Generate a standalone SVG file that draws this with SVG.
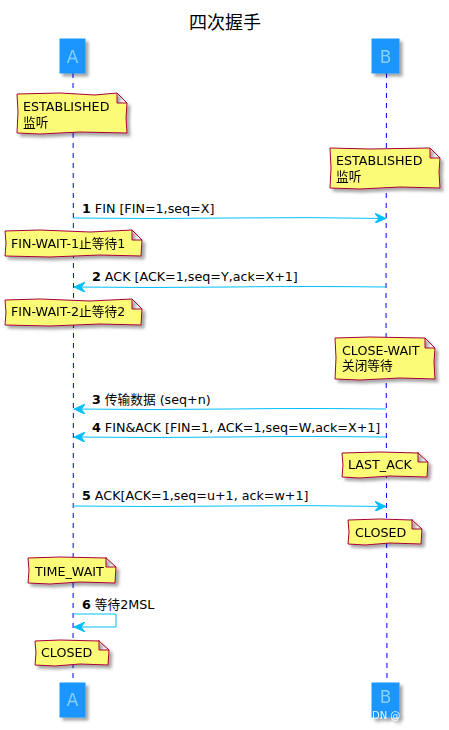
<svg xmlns="http://www.w3.org/2000/svg" width="449" height="730" viewBox="0 0 449 730">
<defs>
<filter id="sh" x="-20%" y="-20%" width="150%" height="160%">
<feGaussianBlur in="SourceAlpha" stdDeviation="1.6"/>
<feOffset dx="3" dy="3" result="b"/>
<feFlood flood-color="#000" flood-opacity="0.35"/>
<feComposite in2="b" operator="in"/>
<feMerge><feMergeNode/><feMergeNode in="SourceGraphic"/></feMerge>
</filter>
<marker id="ah" viewBox="0 0 12 10" refX="11" refY="5" markerWidth="12" markerHeight="10" markerUnits="userSpaceOnUse" orient="auto">
<path d="M0,0 L11,5 L0,10 L4,5 Z" fill="#00BFFF" stroke="#00BFFF" stroke-width="1"/>
</marker>
</defs>
<style>
text{font-family:"DejaVu Sans","Noto Sans CJK SC",sans-serif;}
.t{font-size:12.7px;fill:#000;}
.b{font-weight:bold;}
.title{font-size:18px;fill:#000;}
.part rect{fill:#1A96FF;stroke:#1A96FF;stroke-width:1;}
.part text{font-size:17px;fill:#87CEFA;}
.note path{fill:#FBFB77;stroke:#A80036;stroke-width:1;}
.life{stroke:#0000FF;stroke-width:1;stroke-dasharray:5,5;fill:none;}
.msg{stroke:#00BFFF;stroke-width:1;fill:none;marker-end:url(#ah);}
</style>
<rect width="449" height="730" fill="#fff"/>
<text class="title" x="225" y="29" text-anchor="middle">四次握手</text>

<g id="lifelines">
<path class="life" d="M73,73 L73.5,300 L73,683"/>
<path class="life" d="M386.5,73 L386,300 L387,683"/>
</g>

<g id="participant-A-top" class="part" filter="url(#sh)">
<rect x="60" y="39" width="25" height="34"/>
<text x="72.5" y="63" text-anchor="middle">A</text>
</g>
<g id="participant-B-top" class="part" filter="url(#sh)">
<rect x="372" y="39" width="27" height="34"/>
<text x="385.5" y="63" text-anchor="middle">B</text>
</g>
<g id="participant-A-bottom" class="part" filter="url(#sh)">
<rect x="60" y="683" width="25" height="34"/>
<text x="72.5" y="706" text-anchor="middle">A</text>
</g>
<g id="participant-B-bottom" class="part" filter="url(#sh)">
<rect x="372" y="683" width="27" height="34"/>
<text x="385.5" y="703" text-anchor="middle">B</text>
<text x="372" y="719" style="font-size:10px;fill:#e8f4ff">DN @</text>
</g>

<g id="note-A-established" class="note" filter="url(#sh)">
<path d="M17,94 L60,93 L95,95 L117,93 L127,103 L126,118 L127,133 L80,132 L40,134 L17,133 L18,112 Z M117,93 L117,103 L127,103"/>
<text class="t" x="23" y="111">ESTABLISHED</text>
<text class="t" x="23" y="127">监听</text>
</g>
<g id="note-B-established" class="note" filter="url(#sh)">
<path d="M330,148 L370,149 L430,148 L440,158 L439,172 L440,188 L400,187 L360,189 L330,188 L331,168 Z M430,148 L430,158 L440,158"/>
<text class="t" x="336" y="165">ESTABLISHED</text>
<text class="t" x="336" y="181">监听</text>
</g>

<g id="connectors">
<path class="msg" d="M73,218 Q150,219 230,218 Q310,217 386,218.5"/>
<path class="msg" d="M386,287 Q300,286 230,287 Q150,288 74,287"/>
<path class="msg" d="M386,409 Q300,408 230,409 Q150,410 74,409"/>
<path class="msg" d="M386,437 Q300,436 230,437 Q150,438 74,437"/>
<path class="msg" d="M73,506 Q150,507 230,506 Q310,505 386,506.5"/>
<path class="msg" d="M73,614 L116,614 L116,627 L74,627"/>
</g>

<g id="msg-1">
<text class="t" x="82" y="213"><tspan class="b">1</tspan> FIN [FIN=1,seq=X]</text>
</g>
<g id="note-fin-wait-1" class="note" filter="url(#sh)">
<path d="M5,231 L40,230 L90,232 L132,230 L142,240 L141,256 L100,255 L50,257 L5,256 L6,243 Z M132,230 L132,240 L142,240"/>
<text class="t" x="11" y="248">FIN-WAIT-1止等待1</text>
</g>
<g id="msg-2">
<text class="t" x="92" y="281"><tspan class="b">2</tspan> ACK [ACK=1,seq=Y,ack=X+1]</text>
</g>
<g id="note-fin-wait-2" class="note" filter="url(#sh)">
<path d="M5,300 L40,299 L90,301 L132,299 L142,309 L141,325 L100,324 L50,326 L5,325 L6,312 Z M132,299 L132,309 L142,309"/>
<text class="t" x="11" y="316">FIN-WAIT-2止等待2</text>
</g>
<g id="note-close-wait" class="note" filter="url(#sh)">
<path d="M335,338 L370,337 L425,338 L435,348 L434,362 L435,379 L400,378 L360,380 L335,379 L336,358 Z M425,338 L425,348 L435,348"/>
<text class="t" x="342" y="355">CLOSE-WAIT</text>
<text class="t" x="342" y="370">关闭等待</text>
</g>
<g id="msg-3">
<text class="t" x="92" y="404"><tspan class="b">3</tspan> 传输数据 (seq+n)</text>
</g>
<g id="msg-4">
<text class="t" x="92" y="432"><tspan class="b">4</tspan> FIN&amp;ACK [FIN=1, ACK=1,seq=W,ack=X+1]</text>
</g>
<g id="note-last-ack" class="note" filter="url(#sh)">
<path d="M342,453 L380,452 L418,453 L428,462 L427,477 L390,476 L360,478 L342,477 L343,465 Z M418,452 L418,462 L428,462"/>
<text class="t" x="348" y="469">LAST_ACK</text>
</g>
<g id="msg-5">
<text class="t" x="82" y="500"><tspan class="b">5</tspan> ACK[ACK=1,seq=u+1, ack=w+1]</text>
</g>
<g id="note-B-closed" class="note" filter="url(#sh)">
<path d="M348,520 L380,519 L412,520 L422,529 L421,544 L390,543 L365,545 L348,544 L349,532 Z M412,519 L412,529 L422,529"/>
<text class="t" x="355" y="537">CLOSED</text>
</g>
<g id="note-time-wait" class="note" filter="url(#sh)">
<path d="M28,558 L60,557 L106,558 L116,567 L115,583 L80,582 L50,584 L28,583 L29,570 Z M106,557 L106,567 L116,567"/>
<text class="t" x="35" y="576">TIME_WAIT</text>
</g>
<g id="msg-6">
<text class="t" x="82" y="609"><tspan class="b">6</tspan> 等待2MSL</text>
</g>
<g id="note-A-closed" class="note" filter="url(#sh)">
<path d="M35,641 L60,640 L99,641 L109,650 L108,665 L80,664 L55,666 L35,665 L36,653 Z M99,640 L99,650 L109,650"/>
<text class="t" x="41" y="657">CLOSED</text>
</g>
</svg>
